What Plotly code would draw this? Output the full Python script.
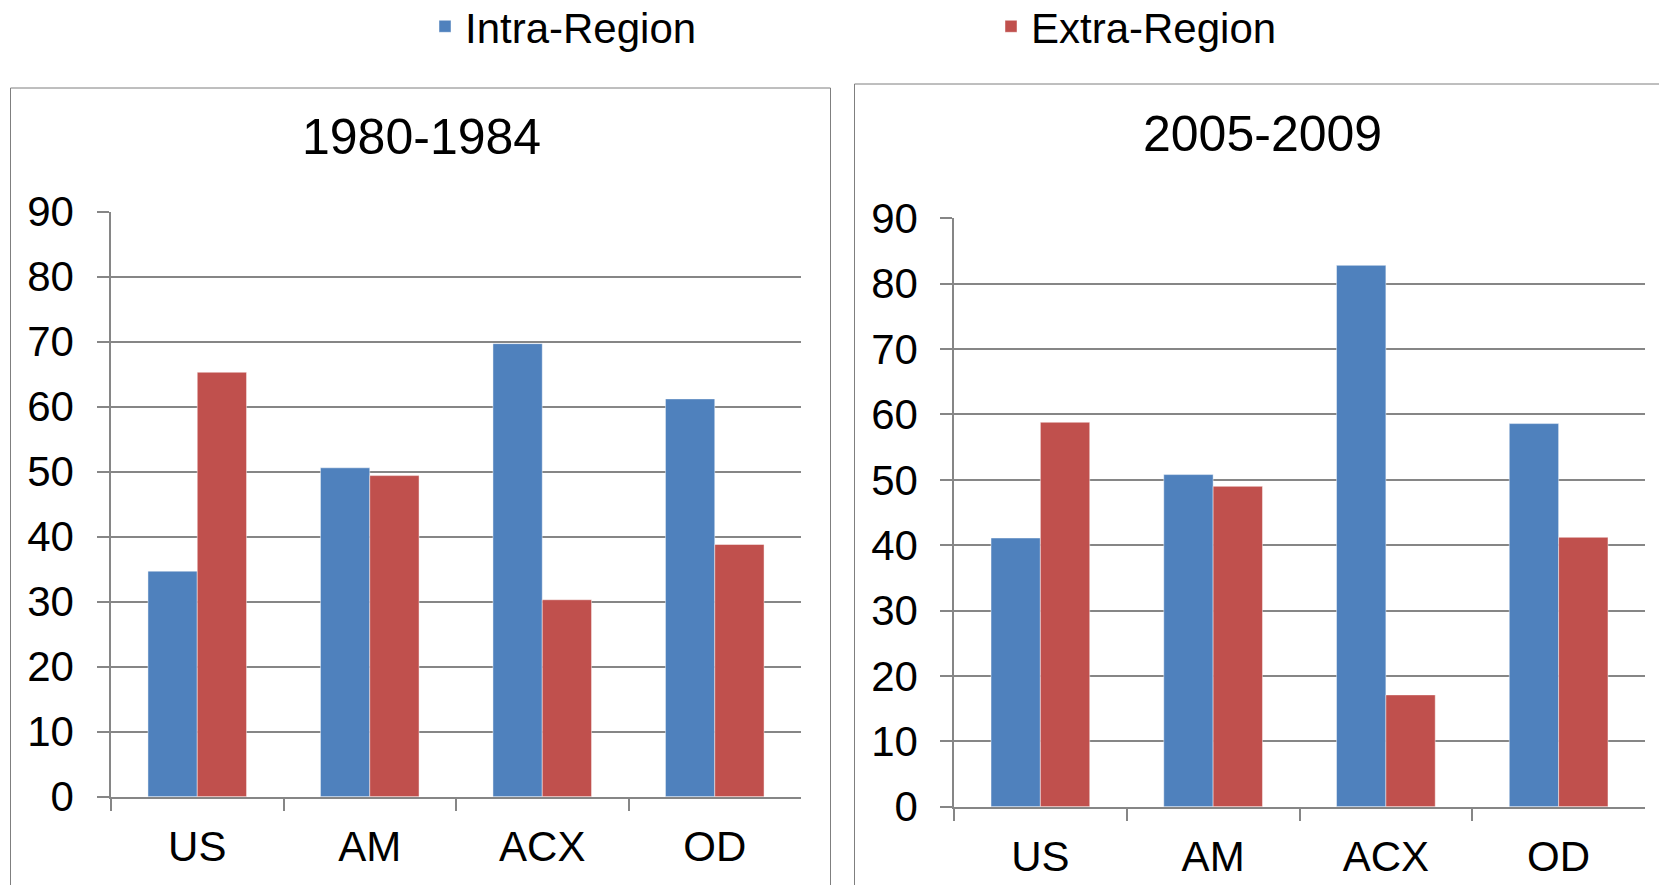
import plotly.graph_objects as go

# ---------------- data ----------------
categories = ["US", "AM", "ACX", "OD"]
period_titles = ["1980-1984", "2005-2009"]
series_names = ["Intra-Region", "Extra-Region"]
intra_1980 = [34.7, 50.6, 69.7, 61.2]
extra_1980 = [65.3, 49.4, 30.3, 38.8]
intra_2005 = [41.1, 50.8, 82.8, 58.6]
extra_2005 = [58.8, 49.0, 17.1, 41.2]
y_tick_values = [0, 10, 20, 30, 40, 50, 60, 70, 80, 90]

# ---------------- style ----------------
W, H = 1659, 885
BLUE = "#4F81BD"
RED = "#C0504D"
GRID = "#868686"
BORDER = "#7F7F7F"
EDGE = "rgba(255,255,255,0.45)"
FONT = "Liberation Sans, Arial, sans-serif"


def px(xp):
    return xp / W


def py(yp):
    return 1 - yp / H


fig = go.Figure()

fig.add_trace(go.Bar(x=categories, y=intra_1980, name=series_names[0],
                     marker=dict(color=BLUE, line=dict(color=EDGE, width=1)),
                     legendgroup="intra", xaxis="x", yaxis="y"))
fig.add_trace(go.Bar(x=categories, y=extra_1980, name=series_names[1],
                     marker=dict(color=RED, line=dict(color=EDGE, width=1)),
                     legendgroup="extra", xaxis="x", yaxis="y"))
fig.add_trace(go.Bar(x=categories, y=intra_2005, name=series_names[0],
                     marker=dict(color=BLUE, line=dict(color=EDGE, width=1)),
                     legendgroup="intra", showlegend=False, xaxis="x2", yaxis="y2"))
fig.add_trace(go.Bar(x=categories, y=extra_2005, name=series_names[1],
                     marker=dict(color=RED, line=dict(color=EDGE, width=1)),
                     legendgroup="extra", showlegend=False, xaxis="x2", yaxis="y2"))

xcommon = dict(
    type="category", range=[-0.5, 3.5], showline=True, linecolor=GRID, linewidth=1.5,
    ticks="outside", tickson="boundaries", ticklen=13, tickcolor=GRID, tickwidth=1.5,
    showgrid=False, tickfont=dict(size=42, color="black", family=FONT),
    ticklabelstandoff=12, fixedrange=True, automargin=False,
)
ycommon = dict(
    range=[0, 90], tickvals=y_tick_values, showline=True, linecolor=GRID, linewidth=1.5,
    ticks="outside", ticklen=12, tickcolor=GRID, tickwidth=1.5,
    showgrid=True, gridcolor=GRID, gridwidth=1.8, zeroline=False,
    tickfont=dict(size=42, color="black", family=FONT),
    fixedrange=True, automargin=False,
)

fig.update_layout(
    width=W, height=H, autosize=False,
    margin=dict(l=0, r=0, t=0, b=0, pad=0, autoexpand=False),
    paper_bgcolor="white", plot_bgcolor="white",
    font=dict(family=FONT, color="black"),
    barmode="group", bargap=1.5 / 3.5, bargroupgap=0,
    xaxis=dict(domain=[px(111), px(801)], anchor="y", **xcommon),
    yaxis=dict(domain=[py(796.7), py(211.7)], anchor="x", ticklabelstandoff=15, **ycommon),
    xaxis2=dict(domain=[px(954), px(1645)], anchor="y2", **xcommon),
    yaxis2=dict(domain=[py(806.7), py(218.3)], anchor="x2", ticklabelstandoff=14, **ycommon),
    legend=dict(
        orientation="h", x=px(425), y=1 + 7.5 / H, xanchor="left", yanchor="top",
        font=dict(size=42, color="black", family=FONT),
        entrywidth=521, entrywidthmode="pixels", bgcolor="rgba(0,0,0,0)",
        traceorder="normal",
    ),
    annotations=[
        dict(text=period_titles[0], x=px(421), y=py(137), xref="paper", yref="paper",
             xanchor="center", yanchor="middle", showarrow=False,
             font=dict(size=50, color="black", family=FONT)),
        dict(text=period_titles[1], x=px(1262), y=py(134), xref="paper", yref="paper",
             xanchor="center", yanchor="middle", showarrow=False,
             font=dict(size=50, color="black", family=FONT)),
    ],
    shapes=[
        dict(type="rect", xref="paper", yref="paper", x0=px(10.5), x1=px(830.5),
             y0=py(900), y1=py(88), line=dict(color=BORDER, width=1), layer="below"),
        dict(type="rect", xref="paper", yref="paper", x0=px(854.5), x1=px(1680),
             y0=py(900), y1=py(84), line=dict(color=BORDER, width=1), layer="below"),
    ],
)

fig.write_html("out.html", config={"displayModeBar": False},
               post_script="document.body.style.margin='0';document.body.style.overflow='hidden';")
